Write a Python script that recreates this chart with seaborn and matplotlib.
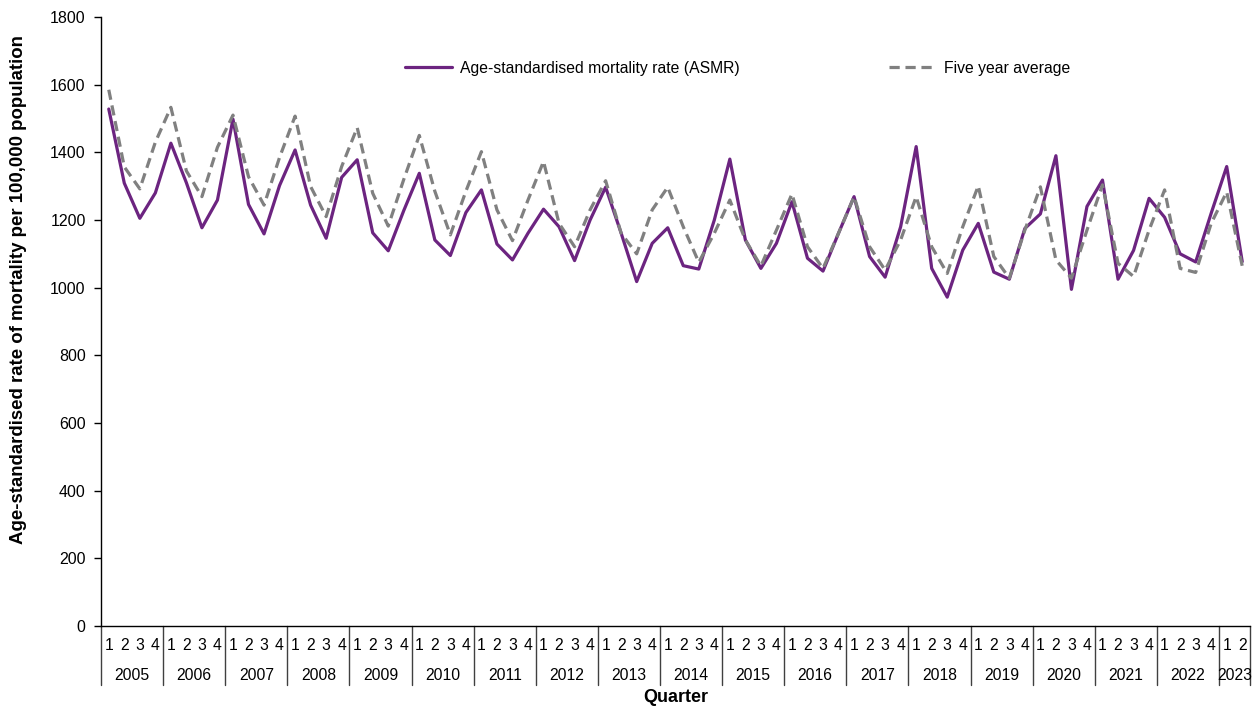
import numpy as np
import pandas as pd
import matplotlib.pyplot as plt
import matplotlib.transforms as mtransforms
import seaborn as sns

# data (quarterly, 2005 Q1 - 2023 Q2)
years = list(range(2005, 2024))
quarters_per_year = [4] * 18 + [2]

asmr = [
    1528, 1309, 1205, 1280,
    1427, 1310, 1177, 1259,
    1498, 1246, 1159, 1302,
    1407, 1244, 1146, 1326,
    1378, 1162, 1109, 1228,
    1338, 1141, 1095, 1222,
    1289, 1129, 1082, 1161,
    1232, 1180, 1080, 1200,
    1297, 1161, 1018, 1131,
    1177, 1065, 1055, 1200,
    1380, 1141, 1057, 1131,
    1254, 1087, 1049, 1161,
    1269, 1092, 1031, 1180,
    1417, 1057, 972, 1111,
    1190, 1046, 1025, 1175,
    1218, 1390, 995, 1240,
    1318, 1025, 1110, 1264,
    1208, 1100, 1076, 1220,
    1358, 1077,
]

five_year_avg = [
    1585, 1357, 1292, 1430,
    1533, 1345, 1269, 1415,
    1510, 1328, 1244, 1385,
    1507, 1299, 1210, 1358,
    1473, 1279, 1182, 1320,
    1450, 1285, 1156, 1285,
    1402, 1230, 1139, 1259,
    1373, 1190, 1121, 1230,
    1316, 1161, 1100, 1230,
    1297, 1180, 1075, 1161,
    1259, 1141, 1064, 1170,
    1277, 1121, 1057, 1161,
    1269, 1121, 1052, 1141,
    1269, 1121, 1042, 1180,
    1301, 1092, 1028, 1170,
    1298, 1082, 1028, 1170,
    1304, 1072, 1033, 1170,
    1289, 1057, 1045, 1190,
    1283, 1064,
]

quarter_labels = [str(q) for n in quarters_per_year for q in range(1, n + 1)]

df = pd.DataFrame({
    'idx': np.arange(len(asmr)),
    'asmr': asmr,
    'avg': five_year_avg,
})

sns.set_style('white')
plt.rcParams['font.family'] = ['Liberation Sans', 'DejaVu Sans']
plt.rcParams['text.color'] = 'black'
plt.rcParams['axes.labelcolor'] = 'black'
plt.rcParams['xtick.color'] = 'black'
plt.rcParams['ytick.color'] = 'black'

fig = plt.figure(figsize=(12.58, 7.06), dpi=100)
ax = fig.add_axes([101 / 1258, 80 / 706, 1149 / 1258, 609 / 706])

purple = '#6c2480'
grey = '#808080'

sns.lineplot(data=df, x='idx', y='asmr', ax=ax, color=purple, linewidth=2.3,
             label='Age-standardised mortality rate (ASMR)')
sns.lineplot(data=df, x='idx', y='avg', ax=ax, color=grey, linewidth=2.3,
             linestyle=(0, (3.2, 1.8)), label='Five year average')

ax.set_xlim(-0.5, len(asmr) - 0.5)
ax.set_ylim(0, 1800)
ax.set_yticks(range(0, 1801, 200))
ax.tick_params(axis='y', which='both', left=True, length=5, width=1,
               labelsize=11.5, color='black', labelcolor='black', pad=6)

ax.set_xticks(range(len(asmr)))
ax.set_xticklabels(quarter_labels, fontsize=11.3)
ax.tick_params(axis='x', length=0, pad=9, labelcolor='black')

for s in ['top', 'right']:
    ax.spines[s].set_visible(False)
for s in ['left', 'bottom']:
    ax.spines[s].set_color('black')
    ax.spines[s].set_linewidth(1)

# year labels and separators below the quarter numbers
trans = mtransforms.blended_transform_factory(ax.transData, ax.transAxes)
start = 0
bounds = [-0.5]
for yr, n in zip(years, quarters_per_year):
    centre = start + (n - 1) / 2
    ax.text(centre, -0.081, str(yr), transform=trans, ha='center', va='center',
            fontsize=11.3, color='black')
    start += n
    bounds.append(start - 0.5)
for b in bounds:
    ax.plot([b, b], [0, -0.097], transform=trans, color='#404040',
            linewidth=1, clip_on=False)

ax.set_xlabel('')
ax.set_ylabel('Age-standardised rate of mortality per 100,000 population',
              fontsize=13.4, fontweight='bold', color='black')
ax.yaxis.set_label_coords(-0.064, 0.552)
fig.text((101 + 1250) / 2 / 1258, 1 - 697 / 706, 'Quarter', ha='center',
         va='center', fontsize=13, fontweight='bold', color='black')

leg = ax.legend(loc='center left', bbox_to_anchor=(0.2646, 0.916), ncol=2,
                frameon=False, fontsize=11.3, handlelength=3.0,
                handletextpad=0.5, columnspacing=9.5, borderpad=0,
                borderaxespad=0)
for t in leg.get_texts():
    t.set_color('black')

fig.savefig('out.png', dpi=100)
